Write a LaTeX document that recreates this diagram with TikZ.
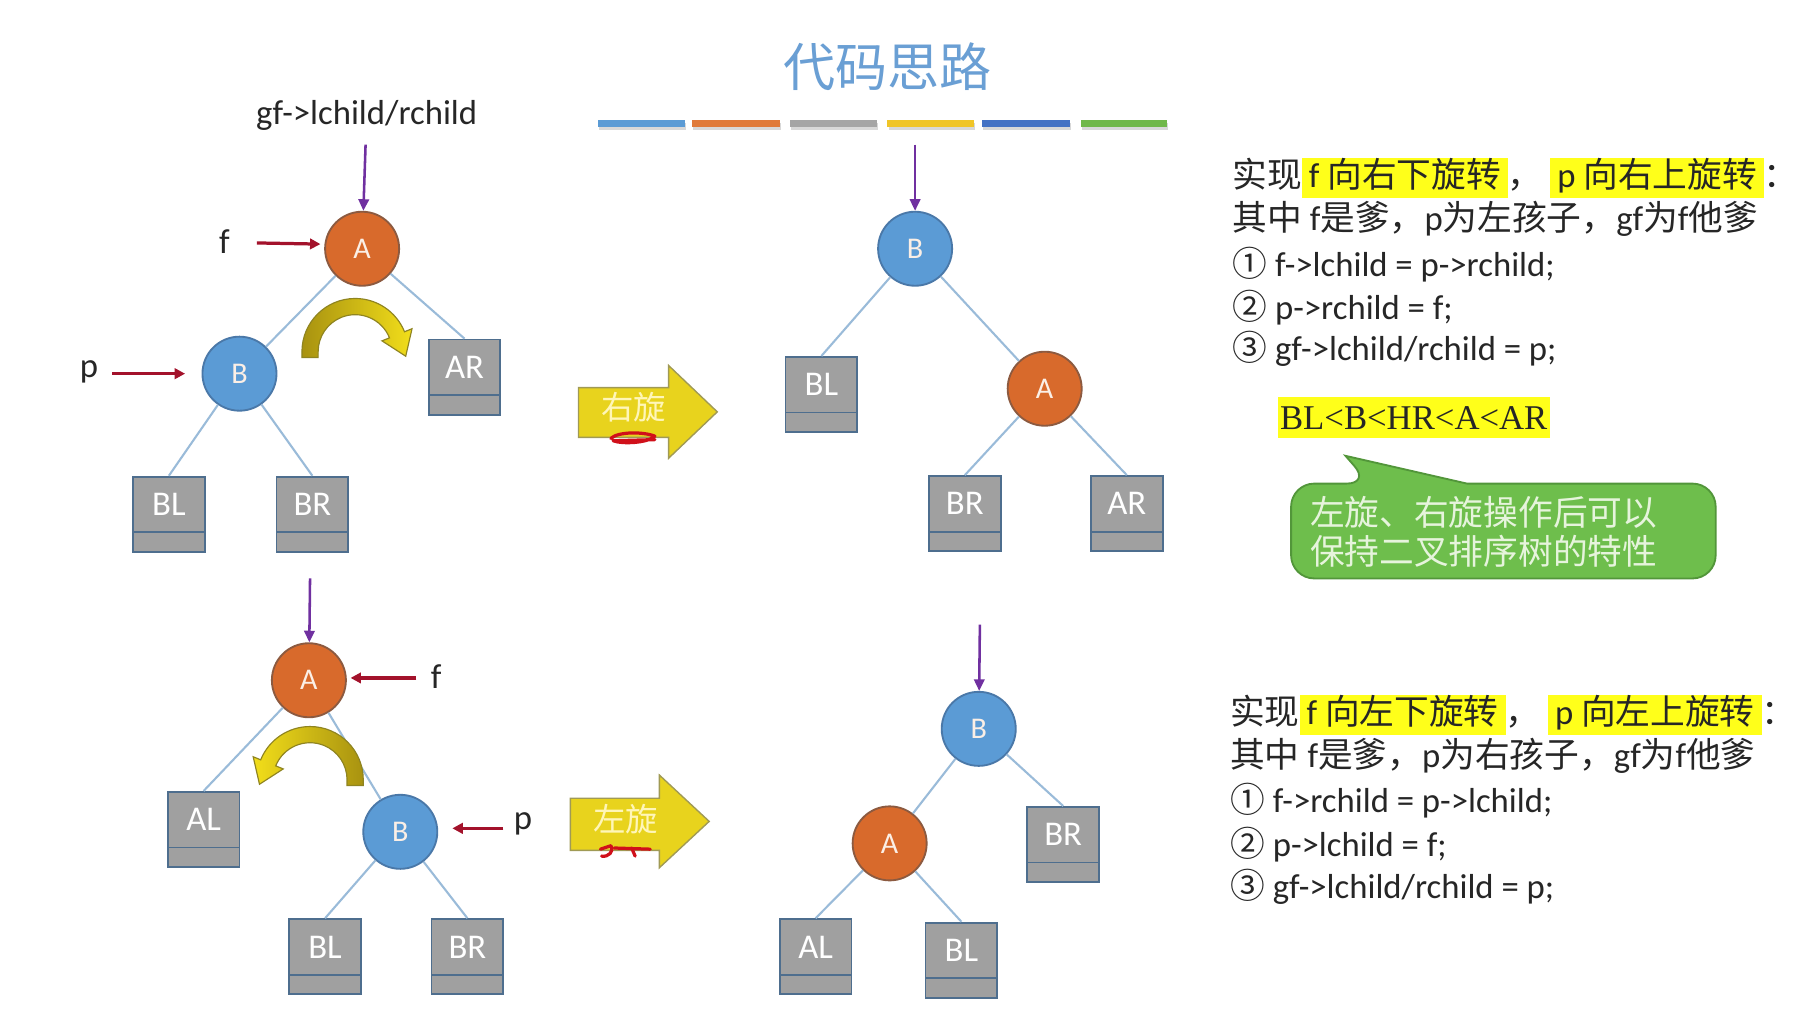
\documentclass[tikz,border=0pt]{standalone}
\usepackage{fontspec}
\setmainfont{Carlito}
\newfontfamily\cjk{Noto Sans CJK SC}
\newfontfamily\serifA{Liberation Serif}
\usetikzlibrary{arrows.meta}
\definecolor{orangefill}{HTML}{D86A2C}
\definecolor{orangeedge}{HTML}{8C5A40}
\definecolor{bluefill}{HTML}{5B9BD5}
\definecolor{blueedge}{HTML}{4A78A8}
\definecolor{boxfill}{HTML}{A0A0A0}
\definecolor{boxedge}{HTML}{4E6E8E}
\definecolor{edgeblue}{HTML}{9ABBD9}
\definecolor{purplec}{HTML}{7030A0}
\definecolor{redc}{HTML}{A3122B}
\definecolor{redsc}{HTML}{D0101A}
\definecolor{hly}{HTML}{FFFF1A}
\definecolor{textc}{HTML}{262626}
\definecolor{titlec}{HTML}{6A9FD4}
\definecolor{calloutfill}{HTML}{6EBE4C}
\definecolor{calloutedge}{HTML}{52963A}
\definecolor{callouttext}{HTML}{E6F4DC}
\definecolor{arrowfill}{HTML}{E8D31D}
\definecolor{arrowedge}{HTML}{A09A55}
\definecolor{arrowtext}{HTML}{FFF6B8}
\definecolor{arcdark}{HTML}{A89210}
\definecolor{arclight}{HTML}{F2DE1A}
\definecolor{arcedge}{HTML}{8F8420}
\definecolor{circtext}{HTML}{FBEFE6}
\definecolor{barA}{HTML}{5B9BD5}
\definecolor{barB}{HTML}{E07A3A}
\definecolor{barC}{HTML}{A5A5A5}
\definecolor{barD}{HTML}{F0C528}
\definecolor{barE}{HTML}{4472C4}
\definecolor{barF}{HTML}{70B84A}
\definecolor{barshadow}{HTML}{D8D8D8}
\newcommand\hl[1]{{\setlength{\fboxsep}{0pt}\colorbox{hly}{\hspace{3pt}\rule[-4.5pt]{0pt}{16.5pt}#1\hspace{3pt}}}}
\tikzset{
  circA/.style={circle, draw=orangeedge, fill=orangefill, line width=0.8pt, minimum size=32pt, inner sep=0pt, text=circtext, font=\fontsize{13}{13}\selectfont},
  circB/.style={circle, draw=blueedge, fill=bluefill, line width=0.8pt, minimum size=32pt, inner sep=0pt, text=circtext, font=\fontsize{13}{13}\selectfont},
  tbox/.style={rectangle, draw=boxedge, fill=boxfill, line width=0.8pt, minimum width=31pt, minimum height=32.5pt, inner sep=0pt,
    path picture={\draw[boxedge, line width=0.8pt] ([yshift=8.5pt]path picture bounding box.south west) -- ([yshift=8.5pt]path picture bounding box.south east);}},
  boxlbl/.style={text=white, font=\fontsize{15}{15}\selectfont, yshift=4.25pt, inner sep=0pt},
  treeedge/.style={draw=edgeblue, line width=0.9pt},
  parrow/.style={draw=purplec, line width=1.1pt, -{Triangle[length=5pt,width=4.5pt]}},
  rarrow/.style={draw=redc, line width=1.4pt, -{Triangle[length=4.5pt,width=4.5pt]}},
  txt/.style={font=\fontsize{15}{17}\selectfont, text=textc, inner sep=0pt, anchor=base west},
  lbl/.style={font=\fontsize{15}{15}\selectfont, text=textc, inner sep=0pt},
  blockarrow/.style={fill=arrowfill, draw=arrowedge, line width=0.6pt},
  arrowlbl/.style={font=\fontsize{14}{14}\cjk, text=arrowtext, inner sep=0pt},
  scribble/.style={draw=redsc, line width=1.4pt, line cap=round, line join=round},
  curvearrow/.style={draw=arcedge, line width=0.5pt},
}
\begin{document}
\begin{tikzpicture}[x=0.5pt, y=-0.5pt]
\useasboundingbox[fill=white] (0,0) rectangle (1568,894);

% title and bars
\node[font=\fontsize{22.5}{24}\cjk, text=titlec, inner sep=0pt] (title) at (767,58) {代码思路};
\foreach \xa/\xb/\c in {517/592/barA, 598/674/barB, 683/758/barC, 767/842/barD, 849/925/barE, 934/1009/barF}{
  \fill[barshadow] (\xa+1,106) rectangle (\xb+1,112);
  \fill[\c] (\xa,104) rectangle (\xb,110);
}

% ---------- top-left tree ----------
\node[lbl] (gftxt) at (317,100) {gf->lchild/rchild};
\node[circA] (A1) at (313,215) {A};
\node[circB] (B1) at (207,323) {B};
\node[tbox, label={[boxlbl]center:AR}] (AR1) at (401.5,326) {};
\node[tbox, label={[boxlbl]center:BL}] (BL1) at (146,444.5) {};
\node[tbox, label={[boxlbl]center:BR}] (BR1) at (270,444.5) {};
\draw[treeedge] (A1) -- (B1);
\draw[treeedge] (A1) -- (AR1.north);
\draw[treeedge] (B1) -- (BL1.north);
\draw[treeedge] (B1) -- (BR1.north);
\coordinate (g1) at (316,125);
\draw[parrow] (g1) -- (A1);
\node[lbl] (f1) at (194,209) {f};
\coordinate (f1s) at (222,210);
\coordinate (f1e) at (277,211);
\draw[rarrow] (f1s) -- (f1e);
\node[lbl] (p1) at (77,321) {p};
\coordinate (p1s) at (97,323);
\coordinate (p1e) at (160,323);
\draw[rarrow] (p1s) -- (p1e);
\begin{scope}[shift={(307,304)}, yscale=-1]
\draw[curvearrow, left color=arcdark, right color=arclight] (-46,-5) -- (180:46) arc[start angle=180, end angle=22, radius=46] -- (22:53) -- (43.7,-3.9) -- (22:25) -- (22:32) arc[start angle=22, end angle=180, radius=32] -- (-32,-5) -- cycle;
\end{scope}

% right block arrow
\draw[blockarrow] (500,335) -- (578,335) -- (578,316) -- (620,356) -- (578,396) -- (578,378) -- (500,378) -- cycle;
\node[arrowlbl] (rot1) at (548,352) {右旋};
\draw[scribble] (528,379) .. controls (534,373) and (556,373) .. (566,377) .. controls (560,383) and (538,384) .. (530,381) -- (566,380);

% ---------- top-right tree ----------
\node[circB] (B2) at (791,215) {B};
\node[circA] (A2) at (903,336) {A};
\node[tbox, label={[boxlbl]center:BL}] (BL2) at (710,341) {};
\node[tbox, label={[boxlbl]center:BR}] (BR2) at (834,444) {};
\node[tbox, label={[boxlbl]center:AR}] (AR2) at (974,444) {};
\draw[treeedge] (B2) -- (BL2.north);
\draw[treeedge] (B2) -- (A2);
\draw[treeedge] (A2) -- (BR2.north);
\draw[treeedge] (A2) -- (AR2.north);
\coordinate (g2) at (791,125);
\draw[parrow] (g2) -- (B2);

% ---------- bottom-left tree ----------
\node[circA] (A3) at (267,588) {A};
\node[circB] (B3) at (346,719) {B};
\node[tbox, label={[boxlbl]center:AL}] (AL3) at (176,717) {};
\node[tbox, label={[boxlbl]center:BL}] (BL3) at (281,827) {};
\node[tbox, label={[boxlbl]center:BR}] (BR3) at (404,827) {};
\draw[treeedge] (A3) -- (AL3.north);
\draw[treeedge] (A3) -- (B3);
\draw[treeedge] (B3) -- (BL3.north);
\draw[treeedge] (B3) -- (BR3.north);
\coordinate (g3) at (268,500);
\draw[parrow] (g3) -- (A3);
\node[lbl] (f3) at (377,585) {f};
\coordinate (f3s) at (360,586);
\coordinate (f3e) at (303,586);
\draw[rarrow] (f3s) -- (f3e);
\node[lbl] (p3) at (452,712) {p};
\coordinate (p3s) at (435,716);
\coordinate (p3e) at (391,716);
\draw[rarrow] (p3s) -- (p3e);
\begin{scope}[shift={(268,674)}, yscale=-1]
\draw[curvearrow, left color=arclight, right color=arcdark] (46,-5) -- (0:46) arc[start angle=0, end angle=158, radius=46] -- (158:53) -- (-43.7,-3.9) -- (158:25) -- (158:32) arc[start angle=158, end angle=0, radius=32] -- (32,-5) -- cycle;
\end{scope}

% left block arrow
\draw[blockarrow] (493,690) -- (570,690) -- (570,670) -- (613,710) -- (570,750) -- (570,735) -- (493,735) -- cycle;
\node[arrowlbl] (rot2) at (541,708) {左旋};
\draw[scribble] (519,734) -- (528,731) .. controls (531,736) and (526,741) .. (520,740);
\draw[scribble] (531,733) -- (562,734);
\draw[scribble] (546,733) -- (549,740);

% ---------- bottom-right tree ----------
\node[circB] (B4) at (846,630) {B};
\node[circA] (A4) at (769,729) {A};
\node[tbox, label={[boxlbl]center:BR}] (BR4) at (919,730) {};
\node[tbox, label={[boxlbl]center:AL}] (AL4) at (705,827) {};
\node[tbox, label={[boxlbl]center:BL}] (BL4) at (831,830) {};
\draw[treeedge] (B4) -- (A4);
\draw[treeedge] (B4) -- (BR4.north);
\draw[treeedge] (A4) -- (AL4.north);
\draw[treeedge] (A4) -- (BL4.north);
\coordinate (g4) at (847,540);
\draw[parrow] (g4) -- (B4);

% ---------- right text, top ----------
\node[txt] (t11) at (1065,162) {{\cjk 实现}\hl{f {\cjk 向右下旋转}}{\cjk ，}\ \hl{p {\cjk 向右上旋转}}{\cjk ：}};
\node[txt] (t12) at (1065,199) {{\cjk 其中} f{\cjk 是爹，}p{\cjk 为左孩子，}gf{\cjk 为}f{\cjk 他爹}};
\node[txt] (t13) at (1065,239) {{\cjk ①} f->lchild = p->rchild;};
\node[txt] (t14) at (1065,276) {{\cjk ②} p->rchild = f;};
\node[txt] (t15) at (1065,312) {{\cjk ③} gf->lchild/rchild = p;};

\node[fill=hly, inner xsep=1pt, inner ysep=0pt, minimum height=17.5pt, font=\fontsize{15}{15}\serifA, text=textc] (order) at (1222,361) {BL<B<HR<A<AR};

\draw[fill=calloutfill, draw=calloutedge, line width=0.8pt, rounded corners=10] (1116,459) -- (1116,418) -- (1184,418) [sharp corners] -- (1163,394) -- (1268,418) [rounded corners=10] -- (1483,418) -- (1483,500) -- (1116,500) -- cycle;
\node[anchor=west, align=left, inner sep=0pt, font=\fontsize{15}{17}\cjk, text=callouttext] (ct) at (1132,460) {左旋、右旋操作后可以\\保持二叉排序树的特性};

% ---------- right text, bottom ----------
\node[txt] (t21) at (1063,626) {{\cjk 实现}\hl{f {\cjk 向左下旋转}}{\cjk ，}\ \hl{p {\cjk 向左上旋转}}{\cjk ：}};
\node[txt] (t22) at (1063,663) {{\cjk 其中} f{\cjk 是爹，}p{\cjk 为右孩子，}gf{\cjk 为}f{\cjk 他爹}};
\node[txt] (t23) at (1063,702) {{\cjk ①} f->rchild = p->lchild;};
\node[txt] (t24) at (1063,740) {{\cjk ②} p->lchild = f;};
\node[txt] (t25) at (1063,777) {{\cjk ③} gf->lchild/rchild = p;};
\end{tikzpicture}
\end{document}
